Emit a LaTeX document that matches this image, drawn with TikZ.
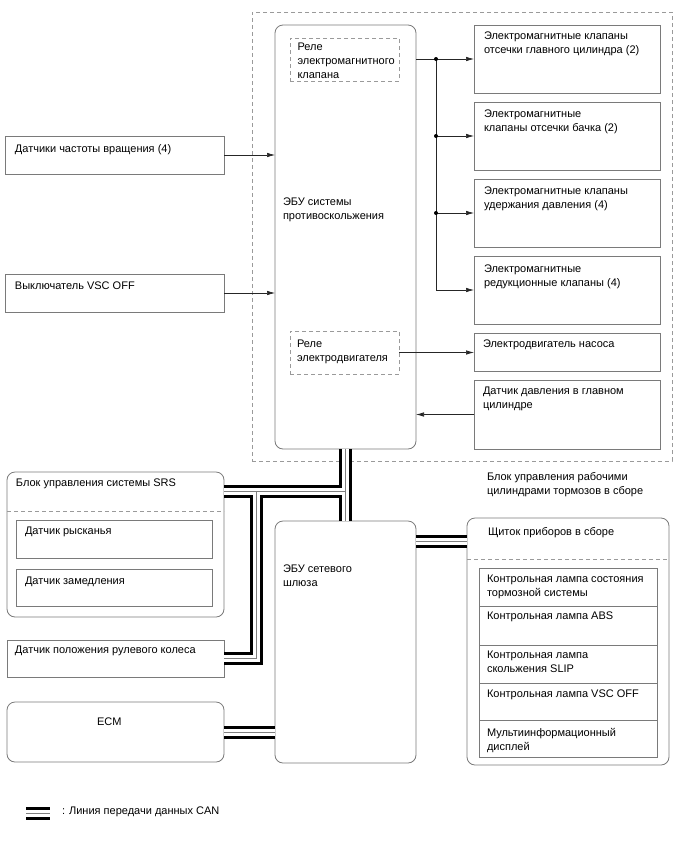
\documentclass[tikz,border=0pt]{standalone}
\usepackage{fontspec}
\setmainfont{Liberation Sans}
\usetikzlibrary{arrows.meta,calc}
\definecolor{bxc}{HTML}{7A7A7A}
\definecolor{dsh}{HTML}{9A9A9A}
\begin{document}
\begin{tikzpicture}[x=1pt,y=-1pt,
 box/.style={draw=bxc, line width=0.8pt, rectangle, outer sep=0pt, inner sep=0pt, anchor=north west},
 rbox/.style={box, rounded corners=8pt},
 dbox/.style={box, draw=dsh, dash pattern=on 4pt off 3pt},
 dline/.style={draw=dsh, line width=0.8pt, dash pattern=on 4pt off 3pt},
 txt/.style={anchor=north west, inner sep=0pt, outer sep=0pt, align=left, font=\fontsize{11}{14}\selectfont},
 arr/.style={draw=black!85, line width=0.7pt, -{Latex[length=8pt,width=4.5pt]}},
 ln/.style={draw=black!85, line width=0.7pt},
 can/.style={line width=13pt, draw=black, postaction={draw=white, line width=7pt}, postaction={draw=black!50, line width=0.9pt}},
]
\useasboundingbox[fill=white] (0,0) rectangle (688,852);

% outer assembly
\node[dbox, minimum width=420pt, minimum height=449pt] (asm) at (252,12) {};
\node[rbox, minimum width=141pt, minimum height=424pt] (ecu) at (275,25) {};
\node[dbox, minimum width=109pt, minimum height=43pt] (r1) at (290,38) {};
\node[dbox, minimum width=109pt, minimum height=43pt] (r2) at (290,331) {};

% left inputs
\node[box, minimum width=219pt, minimum height=38pt] (s1) at (5,136) {};
\node[box, minimum width=219pt, minimum height=38pt] (s2) at (5,274) {};

% right boxes
\node[box, minimum width=186pt, minimum height=68pt] (v1) at (474,25) {};
\node[box, minimum width=186pt, minimum height=68pt] (v2) at (474,102) {};
\node[box, minimum width=186pt, minimum height=68pt] (v3) at (474,179) {};
\node[box, minimum width=186pt, minimum height=68pt] (v4) at (474,256) {};
\node[box, minimum width=186pt, minimum height=38pt] (pump) at (474,333) {};
\node[box, minimum width=186pt, minimum height=69pt] (ps) at (474,380) {};

% lower section
\node[rbox, minimum width=217pt, minimum height=145pt] (srs) at (7,472) {};
\node[box, minimum width=196pt, minimum height=38pt] (yaw) at (16,520) {};
\node[box, minimum width=196pt, minimum height=37pt] (dec) at (16,569) {};
\node[box, minimum width=217pt, minimum height=37pt] (steer) at (7,640) {};
\node[rbox, minimum width=217pt, minimum height=60pt] (ecm) at (7,702) {};
\node[rbox, minimum width=141pt, minimum height=242pt] (gw) at (275,521) {};
\node[rbox, minimum width=202pt, minimum height=247pt] (clu) at (467,518) {};
\node[box, minimum width=178pt, minimum height=38pt] (l1) at (479,568) {};
\node[box, minimum width=178pt, minimum height=39pt] (l2) at (479,606) {};
\node[box, minimum width=178pt, minimum height=38pt] (l3) at (479,645) {};
\node[box, minimum width=178pt, minimum height=37pt] (l4) at (479,683) {};
\node[box, minimum width=178pt, minimum height=37pt] (l5) at (479,720) {};

\draw[dline] (srs.west |- 0,511) -- (srs.east |- 0,511);
\draw[dline] (clu.west |- 0,559) -- (clu.east |- 0,559);

% texts
\node[txt] (ts1) at (15,145) {Датчики частоты вращения (4)};
\node[txt] (ts2) at (15,282) {Выключатель VSC OFF};
\node[txt] (tr1) at (297.5,43) {Реле\\электромагнитного\\клапана};
\node[txt] (tecu) at (283,198) {ЭБУ системы\\противоскольжения};
\node[txt] (tr2) at (297,340) {Реле\\электродвигателя};
\node[txt] (tv1) at (484,32) {Электромагнитные клапаны\\отсечки главного цилиндра (2)};
\node[txt] (tv2) at (484,110) {Электромагнитные\\клапаны отсечки бачка (2)};
\node[txt] (tv3) at (484,187) {Электромагнитные клапаны\\удержания давления (4)};
\node[txt] (tv4) at (484,265) {Электромагнитные\\редукционные клапаны (4)};
\node[txt] (tpump) at (483,340) {Электродвигатель насоса};
\node[txt] (tps) at (483,387) {Датчик давления в главном\\цилиндре};
\node[txt] (tcap) at (487,472) {Блок управления рабочими\\цилиндрами тормозов в сборе};
\node[txt] (tsrs) at (16,479) {Блок управления системы SRS};
\node[txt] (tyaw) at (25,527) {Датчик рысканья};
\node[txt] (tdec) at (25,577) {Датчик замедления};
\node[txt] (tst) at (15,646) {Датчик положения рулевого колеса};
\node[txt] (tecm) at (97,718) {ECM};
\node[txt] (tgw) at (283,565) {ЭБУ сетевого\\шлюза};
\node[txt] (tclu) at (488,527) {Щиток приборов в сборе};
\node[txt] (tl1) at (487,575) {Контрольная лампа состояния\\тормозной системы};
\node[txt] (tl2) at (487,612) {Контрольная лампа ABS};
\node[txt] (tl3) at (487,651) {Контрольная лампа\\скольжения SLIP};
\node[txt] (tl4) at (487,690) {Контрольная лампа VSC OFF};
\node[txt] (tl5) at (487,728) {Мультиинформационный\\дисплей};
\node[txt] (tlg) at (62,807) {: Линия передачи данных CAN};

% signal connectors
\coordinate (jx) at (436,0);
\draw[arr] (s1.east) -- (s1.east -| ecu.west);
\draw[arr] (s2.east) -- (s2.east -| ecu.west);
\draw[arr] (v1.west -| ecu.east) -- (v1.west);
\draw[ln] (v1.west -| jx) -- (v4.west -| jx);
\draw[arr] (v2.west -| jx) -- (v2.west);
\draw[arr] (v3.west -| jx) -- (v3.west);
\draw[arr] (v4.west -| jx) -- (v4.west);
\fill[black] (v1.west -| jx) circle (2pt) (v2.west -| jx) circle (2pt) (v3.west -| jx) circle (2pt);
\draw[arr] (r2.east) -- (r2.east -| pump.west);
\draw[arr] (ps.west) -- (ps.west -| ecu.east);

% CAN lines
\coordinate (c1) at (345,491);
\coordinate (c2) at (256,491);
\draw[can] (ecu.south) -- (gw.north)
  (srs.east |- c1) -- (c1)
  (c2) -- (c2 |- steer.east) -- (steer.east)
  (ecm.east) -- (ecm.east -| gw.west)
  (gw.east |- 0,541) -- (clu.west |- 0,541);

% legend
\coordinate (lg1) at (26,813);
\coordinate (lg2) at (50,813);
\draw[can] (lg1) -- (lg2);
\end{tikzpicture}
\end{document}
